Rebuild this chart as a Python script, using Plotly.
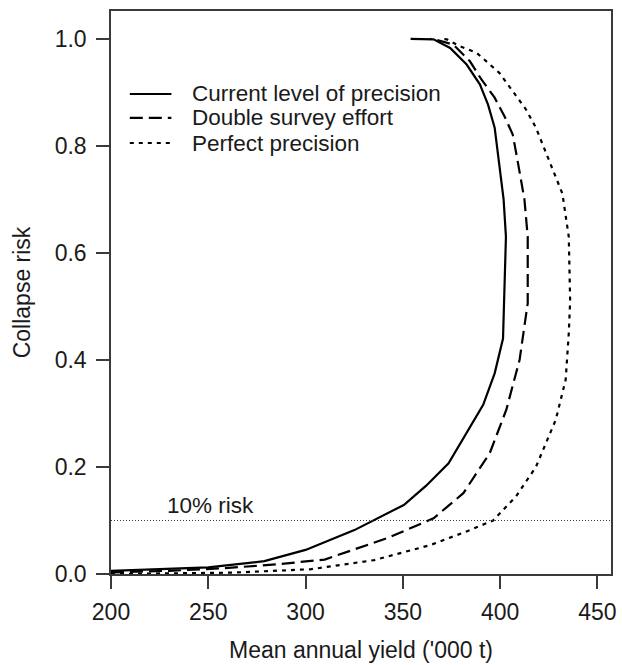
import plotly.graph_objects as go

# ---- data ----
current_yield = [200, 225, 250, 278.8, 300, 325.1, 350.5, 362, 373.5, 391.3, 397.2, 401.5,
                 402.3, 403.0, 401.8, 399.7, 397.2, 393.8, 389.6, 382.8, 374.3, 365.8, 360, 354]
current_risk = [0.006, 0.009, 0.0125, 0.024, 0.045, 0.082, 0.129, 0.165, 0.207, 0.316, 0.375, 0.44,
                0.53, 0.63, 0.70, 0.765, 0.834, 0.877, 0.915, 0.952, 0.983, 0.999, 1.0, 1.0]

double_yield = [200, 230, 258.9, 285, 309.8, 342, 365.8, 381.1, 394.7, 403.2, 410, 414.2,
                414.2, 412.5, 408.6, 406.5, 402.3, 397.2, 390.4, 384.5, 376, 367.5, 364]
double_risk = [0.003, 0.006, 0.011, 0.018, 0.027, 0.067, 0.104, 0.151, 0.226, 0.307, 0.4, 0.506,
               0.63, 0.70, 0.78, 0.821, 0.855, 0.89, 0.924, 0.958, 0.989, 0.998, 1.0]

perfect_yield = [200, 262.3, 303, 335.3, 364.1, 384.5, 396.4, 408.2, 418.4, 428.6, 433.7, 435.3,
                 436.0, 435.3, 432, 426, 422.6, 418.4, 413.3, 406.5, 399.7, 387.9, 379.4, 372.6, 369.2]
perfect_risk = [0.0, 0.0025, 0.009, 0.026, 0.054, 0.082, 0.1, 0.145, 0.2, 0.288, 0.363, 0.45,
                0.51, 0.63, 0.711, 0.765, 0.796, 0.834, 0.868, 0.902, 0.936, 0.974, 0.986, 0.999, 1.0]

series_names = ["Current level of precision", "Double survey effort", "Perfect precision"]
risk_threshold = 0.1
threshold_label = "10% risk"

x_ticks = [200, 250, 300, 350, 400, 450]
y_ticks = [0.0, 0.2, 0.4, 0.6, 0.8, 1.0]
x_title = "Mean annual yield ('000 t)"
y_title = "Collapse risk"

# ---- styling ----
FONT = "Liberation Sans, Arial, Helvetica, sans-serif"
FS = 23
FS_LEG = 22.5
INK = "#1a1a1a"
AXIS = "#3a3a3a"
LW = 2.2
dashes = ["solid", "13px,6px", "4px,5px"]

fig = go.Figure()
for xs, ys, name, dash in zip([current_yield, double_yield, perfect_yield],
                              [current_risk, double_risk, perfect_risk],
                              series_names, dashes):
    fig.add_trace(go.Scatter(x=xs, y=ys, mode="lines", name=name, showlegend=False,
                             line=dict(color="black", width=LW, dash=dash)))

# 10% risk reference line
fig.add_trace(go.Scatter(x=[200, 460], y=[risk_threshold, risk_threshold], mode="lines",
                         showlegend=False, line=dict(color="#333333", width=1, dash="1px,2px")))
fig.add_annotation(x=227.5, y=risk_threshold, yshift=0, text=threshold_label, showarrow=False,
                   xanchor="left", yanchor="bottom", font=dict(family=FONT, size=FS_LEG, color=INK))

# manual legend (compact, like the reference)
leg_rows = [0.8526, 0.81, 0.7655]
for name, dash, yy in zip(series_names, dashes, leg_rows):
    fig.add_shape(type="line", xref="paper", yref="paper", x0=0.0376, x1=0.1208, y0=yy, y1=yy,
                  line=dict(color="black", width=LW, dash=dash))
    fig.add_annotation(xref="paper", yref="paper", x=0.158, y=yy, text=name, showarrow=False,
                       xanchor="left", yanchor="middle",
                       font=dict(family=FONT, size=FS_LEG, color=INK))

axis_common = dict(showgrid=False, zeroline=False, showline=True, linecolor=AXIS, linewidth=1.5,
                   mirror=True, ticks="outside", ticklen=13, tickwidth=1.5, tickcolor=AXIS,
                   tickfont=dict(family=FONT, size=FS, color=INK))

fig.update_layout(
    width=622, height=665,
    margin=dict(l=111, r=6, t=11, b=91),
    paper_bgcolor="white", plot_bgcolor="white",
    font=dict(family=FONT, size=FS, color=INK),
    xaxis=dict(range=[200, 457], tickvals=x_ticks, ticktext=[str(v) for v in x_ticks],
               ticklabelstandoff=4,
               title=dict(text=x_title, standoff=18, font=dict(family=FONT, size=FS, color=INK)),
               **axis_common),
    yaxis=dict(range=[0, 1.052], tickvals=y_ticks, ticktext=[f"{v:.1f}" for v in y_ticks],
               ticklabelstandoff=5,
               title=dict(text=y_title, standoff=18, font=dict(family=FONT, size=FS, color=INK)),
               **axis_common),
)

fig.write_html("out.html")
